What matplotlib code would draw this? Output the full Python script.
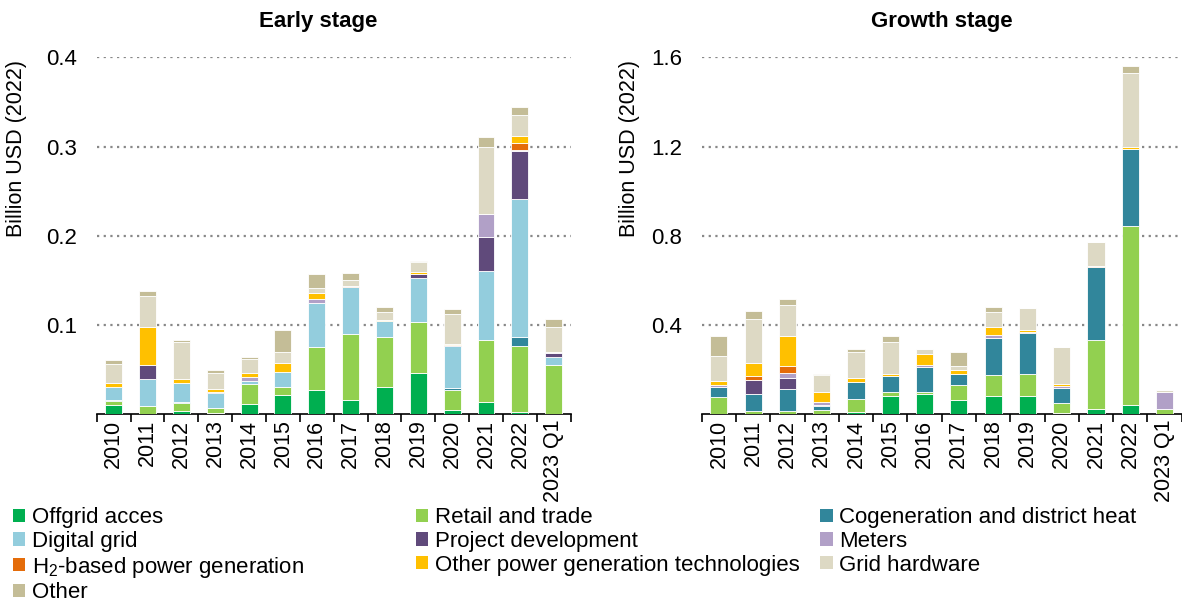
import numpy as np
import matplotlib
matplotlib.use("Agg")
import matplotlib.pyplot as plt
from matplotlib.patches import Patch

plt.rcParams['font.family'] = ['Liberation Sans', 'DejaVu Sans']
plt.rcParams['mathtext.fontset'] = 'custom'
plt.rcParams['mathtext.rm'] = 'Liberation Sans'
plt.rcParams['mathtext.it'] = 'Liberation Sans'

# --- data (billion USD 2022) ---
periods = ['2010', '2011', '2012', '2013', '2014', '2015', '2016', '2017',
           '2018', '2019', '2020', '2021', '2022', '2023 Q1']

series_names = ['Offgrid acces', 'Retail and trade', 'Cogeneration and district heat',
                'Digital grid', 'Project development', 'Meters',
                'H$_\\mathrm{2}$-based power generation',
                'Other power generation technologies', 'Grid hardware', 'Other']
colors = ['#00AF50', '#92D050', '#31869B', '#93CDDD', '#604A7B', '#B1A0C7',
          '#E46C0A', '#FFC000', '#DDD9C4', '#C4BD97']

early_offgrid = [0.0097, 0, 0.0037, 0.0015, 0.0115, 0.0209, 0.0272, 0.016, 0.0299, 0.0463, 0.0049, 0.0138, 0.0026, 0]
early_retail = [0.005, 0.0093, 0.009, 0.005, 0.0217, 0.0097, 0.0475, 0.0732, 0.057, 0.057, 0.0223, 0.0687, 0.0735, 0.0549]
early_cogen = [0.001, 0, 0.0013, 0, 0, 0, 0, 0, 0, 0, 0.0018, 0, 0.0105, 0]
early_digital = [0.015, 0.030, 0.021, 0.0175, 0.0037, 0.0168, 0.0496, 0.0527, 0.0175, 0.0497, 0.0468, 0.0784, 0.1545, 0.0093]
early_project = [0, 0.0157, 0, 0.001, 0, 0, 0, 0, 0, 0.0037, 0.0012, 0.0381, 0.0538, 0.0045]
early_meters = [0, 0, 0, 0, 0.0048, 0, 0.0052, 0, 0, 0, 0, 0.0253, 0.0015, 0.001]
early_h2 = [0, 0, 0, 0, 0, 0, 0, 0.0015, 0, 0, 0, 0, 0.0075, 0]
early_otherpow = [0.004, 0.0425, 0.0045, 0.003, 0.004, 0.0097, 0.0063, 0, 0.0015, 0.0022, 0.0015, 0, 0.0078, 0]
early_gridhw = [0.021, 0.035, 0.041, 0.0176, 0.016, 0.0127, 0.0052, 0.007, 0.009, 0.0112, 0.0338, 0.075, 0.0231, 0.028]
early_other = [0.005, 0.006, 0.002, 0.0037, 0.0023, 0.0246, 0.0165, 0.0075, 0.0048, 0.0015, 0.0053, 0.0112, 0.0093, 0.0087]

growth_offgrid = [0, 0, 0, 0, 0.009, 0.082, 0.091, 0.064, 0.082, 0.082, 0.006, 0.0224, 0.0419, 0]
growth_retail = [0.0777, 0.0135, 0.0135, 0.018, 0.057, 0.018, 0.009, 0.064, 0.091, 0.097, 0.043, 0.308, 0.801, 0.021]
growth_cogen = [0.042, 0.075, 0.097, 0.018, 0.076, 0.072, 0.109, 0.052, 0.169, 0.183, 0.069, 0.330, 0.348, 0]
growth_digital = [0, 0, 0, 0, 0, 0, 0, 0, 0, 0, 0, 0, 0, 0]
growth_project = [0, 0.066, 0.052, 0.006, 0, 0, 0, 0, 0, 0.005, 0, 0, 0, 0.003]
growth_meters = [0.0105, 0, 0.0194, 0.010, 0, 0, 0.0104, 0, 0.012, 0, 0.009, 0, 0, 0.076]
growth_h2 = [0, 0.016, 0.034, 0, 0, 0, 0, 0, 0, 0, 0, 0.0045, 0, 0]
growth_otherpow = [0.018, 0.058, 0.135, 0.048, 0.019, 0.009, 0.052, 0.018, 0.035, 0.010, 0.006, 0, 0.005, 0]
growth_gridhw = [0.112, 0.199, 0.139, 0.075, 0.118, 0.14, 0.0195, 0.016, 0.069, 0.097, 0.166, 0.105, 0.332, 0.008]
growth_other = [0.09, 0.033, 0.024, 0.006, 0.012, 0.028, 0, 0.066, 0.021, 0.003, 0, 0, 0.033, 0]

early = [early_offgrid, early_retail, early_cogen, early_digital, early_project,
         early_meters, early_h2, early_otherpow, early_gridhw, early_other]
growth = [growth_offgrid, growth_retail, growth_cogen, growth_digital, growth_project,
          growth_meters, growth_h2, growth_otherpow, growth_gridhw, growth_other]


def draw_panel(ax, stack, title, yticks, title_x=0.5, label_x=-0.15):
    x = np.arange(len(periods))
    bottom = np.zeros(len(periods))
    for vals, col in zip(stack, colors):
        vals = np.array(vals)
        ax.bar(x, vals, width=0.5, bottom=bottom, color=col,
               edgecolor='white', linewidth=0.6, zorder=3)
        bottom += vals
    ax.set_xlim(-0.5, len(periods) - 0.5)
    ax.set_ylim(0, yticks[-1])
    ax.set_yticks(yticks)
    ax.set_yticklabels([f"{t:.1f}" for t in yticks])
    ax.set_xticks(x)
    ax.set_xticklabels(periods, rotation=90)
    ax.set_xticks(np.arange(-0.5, len(periods)), minor=True)
    ax.tick_params(axis='x', which='major', length=0, labelsize=15.5, pad=4)
    ax.tick_params(axis='x', which='minor', length=6, width=1.2, color='black')
    ax.tick_params(axis='y', length=0, labelsize=16, pad=14)
    for s in ['top', 'right', 'left']:
        ax.spines[s].set_visible(False)
    ax.spines['bottom'].set_linewidth(1.2)
    ax.yaxis.grid(True, linestyle=(0, (1, 2)), color='#888888', linewidth=1.6, zorder=0)
    ax.set_axisbelow(True)
    ax.set_ylabel('Billion USD (2022)', fontsize=15.5)
    ax.yaxis.set_label_coords(label_x, 0.743)
    ax.set_title(title, fontsize=16, fontweight='bold', x=title_x, pad=22)


fig = plt.figure(figsize=(11.82, 6.06), dpi=100)
ax1 = fig.add_axes([0.0818, 0.3168, 0.401, 0.5886])
ax2 = fig.add_axes([0.5937, 0.3168, 0.4060, 0.5886])

draw_panel(ax1, early, 'Early stage', [0.1, 0.2, 0.3, 0.4], title_x=0.467, label_x=-0.147)
draw_panel(ax2, growth, 'Growth stage', [0.4, 0.8, 1.2, 1.6], label_x=-0.128)

# legend: three columns laid out row by row
handles = [Patch(facecolor=c, edgecolor='none') for c in colors]
col_groups = [[0, 3, 6, 9], [1, 4, 7], [2, 5, 8]]
col_x = [0.011, 0.352, 0.694]
for grp, xpos in zip(col_groups, col_x):
    fig.legend([handles[i] for i in grp], [series_names[i] for i in grp],
               loc='upper left', bbox_to_anchor=(xpos, 0.163), frameon=False,
               fontsize=16, handlelength=0.55, handleheight=0.55,
               handletextpad=0.3, labelspacing=0.12, borderaxespad=0,
               borderpad=0)

fig.savefig('out.png', dpi=100)
